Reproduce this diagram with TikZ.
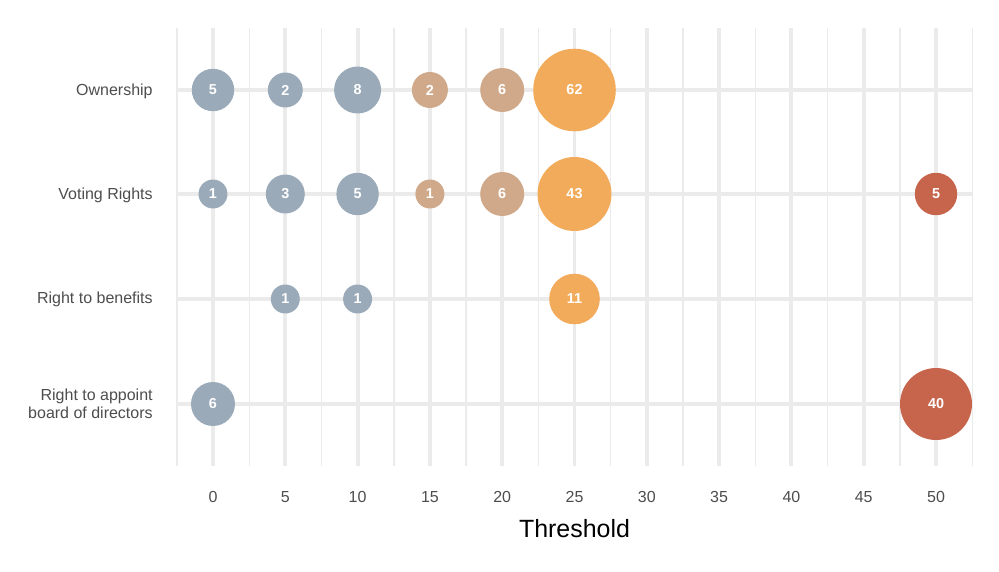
\documentclass[tikz,border=0pt]{standalone}
\usepackage{fontspec}
\setmainfont{Liberation Sans}
\usepackage{tikz}
\definecolor{slategrey}{HTML}{9AAAB9}
\definecolor{tanbrown}{HTML}{CFA98A}
\definecolor{amber}{HTML}{F2AB5B}
\definecolor{brick}{HTML}{C6654C}
\definecolor{gridgrey}{HTML}{EBEBEB}
\definecolor{labelgrey}{HTML}{4D4D4D}

\begin{document}
\begin{tikzpicture}[x = 0.02cm, y = -0.02cm,
  majorgrid/.style = {gridgrey, line width = 2.2pt},
  minorgrid/.style = {gridgrey, line width = 0.8pt},
  catlabel/.style = {labelgrey, anchor = east, align = right, inner sep = 0pt, font = \fontsize{9.1}{10.2}\selectfont},
  ticklabel/.style = {labelgrey, inner sep = 0pt, font = \fontsize{9.1}{10.2}\selectfont},
  bubble/.style = {circle, inner sep = 0pt, minimum size = #1*0.04cm, text = white, font = \fontsize{8.2}{9}\selectfont\bfseries}]
\useasboundingbox (0, 0) rectangle (999, 571);
% grid
\foreach \gx in {176.9, 249.2, 321.5, 393.8, 466.1, 538.4, 610.7, 683.0, 755.3, 827.6, 899.9, 972.2}
  \draw[minorgrid] (\gx, 28) -- (\gx, 466);
\foreach \gx in {213, 285.3, 357.6, 429.9, 502.2, 574.5, 646.8, 719.1, 791.4, 863.7, 936}
  \draw[majorgrid] (\gx, 28) -- (\gx, 466);
\foreach \gy in {90, 194, 299, 404}
  \draw[majorgrid] (176.9, \gy) -- (972.2, \gy);
% category labels
\node[catlabel] (own) at (153, 91) {Ownership};
\node[catlabel] (vote) at (153, 195) {Voting Rights};
\node[catlabel] (bene) at (153, 299) {Right to benefits};
\node[catlabel] (board) at (153, 404) {Right to appoint\\board of directors};
% x axis
\foreach \t [count = \i from 0] in {0, 5, 10, 15, 20, 25, 30, 35, 40, 45, 50}
  \node[ticklabel] (tick\t) at (213 + 72.3*\i, 497) {\t};
\node[black, font = \fontsize{14.2}{16}\selectfont] (xtitle) at (574.5, 529) {Threshold};
% Ownership
\node[bubble = 21.2, fill = slategrey] (own0) at (213, 90) {5};
\node[bubble = 17.5, fill = slategrey] (own5) at (285.3, 90) {2};
\node[bubble = 23.5, fill = slategrey] (own10) at (357.6, 90) {8};
\node[bubble = 18, fill = tanbrown] (own15) at (429.9, 90) {2};
\node[bubble = 22, fill = tanbrown] (own20) at (502.2, 90) {6};
\node[bubble = 41.3, fill = amber] (own25) at (574.5, 90) {62};
% Voting Rights
\node[bubble = 14.5, fill = slategrey] (vote0) at (213, 194) {1};
\node[bubble = 19.5, fill = slategrey] (vote5) at (285.3, 194) {3};
\node[bubble = 21.2, fill = slategrey] (vote10) at (357.6, 194) {5};
\node[bubble = 14.5, fill = tanbrown] (vote15) at (429.9, 194) {1};
\node[bubble = 22, fill = tanbrown] (vote20) at (502.2, 194) {6};
\node[bubble = 37, fill = amber] (vote25) at (574.5, 194) {43};
\node[bubble = 21.2, fill = brick] (vote50) at (936, 194) {5};
% Right to benefits
\node[bubble = 14.5, fill = slategrey] (bene5) at (285.3, 299) {1};
\node[bubble = 14.5, fill = slategrey] (bene10) at (357.6, 299) {1};
\node[bubble = 25.3, fill = amber] (bene25) at (574.5, 299) {11};
% Right to appoint board of directors
\node[bubble = 22, fill = slategrey] (board0) at (213, 404) {6};
\node[bubble = 36, fill = brick] (board50) at (936, 404) {40};
\end{tikzpicture}
\end{document}
